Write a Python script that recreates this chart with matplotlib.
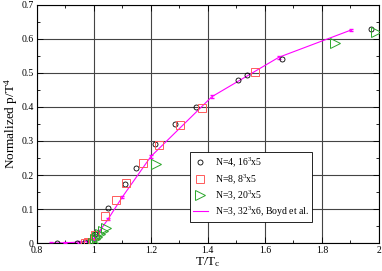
import matplotlib
matplotlib.use("Agg")
import matplotlib.pyplot as plt
from matplotlib.ticker import MultipleLocator, FuncFormatter

plt.rcParams['font.family'] = ['Liberation Serif', 'DejaVu Serif']
plt.rcParams['mathtext.fontset'] = 'custom'
plt.rcParams['mathtext.rm'] = 'Liberation Serif'
plt.rcParams['mathtext.it'] = 'Liberation Serif:italic'

# N=4, 16^3x5
n4_x = [0.87, 0.942, 0.97, 1.003, 1.051, 1.108, 1.147, 1.215, 1.286, 1.358, 1.507, 1.536, 1.659, 1.971]
n4_y = [0.0, 0.0, 0.004, 0.026, 0.102, 0.173, 0.220, 0.291, 0.350, 0.399, 0.479, 0.494, 0.541, 0.629]
# N=8, 8^3x5
n8_x = [0.969, 0.98, 1.003, 1.039, 1.077, 1.114, 1.172, 1.228, 1.303, 1.381, 1.565]
n8_y = [0.0, 0.004, 0.023, 0.079, 0.128, 0.176, 0.234, 0.287, 0.346, 0.397, 0.502]
# N=3, 20^3x5
n3_x = [0.997, 1.006, 1.013, 1.021, 1.032, 1.044, 1.219, 1.845, 1.99]
n3_y = [0.0, 0.012, 0.019, 0.028, 0.035, 0.043, 0.231, 0.587, 0.620]
# N=3, 32^3x6, Boyd et al.
boyd_x = [0.85, 0.9, 0.95, 0.98, 1.0, 1.02, 1.05, 1.1, 1.2, 1.414, 1.649, 1.902]
boyd_y = [0.0, 0.001, 0.003, 0.005, 0.012, 0.035, 0.07, 0.135, 0.254, 0.43, 0.546, 0.626]
boyd_err = [0.002, 0.002, 0.002, 0.002, 0.003, 0.003, 0.003, 0.003, 0.004, 0.004, 0.004, 0.004]

fig = plt.figure(figsize=(3.82, 2.71), dpi=100)
ax = fig.add_axes([0.096, 0.103, 0.896, 0.879])

ax.plot(n4_x, n4_y, linestyle='none', marker='o', ms=3.6, mfc='none', mec='black', mew=0.6,
        label='N=4, 16$^{3}$x5', zorder=4)
ax.plot(n8_x, n8_y, linestyle='none', marker='s', ms=5.5, mfc='none', mec='#ff5a5a', mew=0.7,
        label='N=8, 8$^{3}$x5', zorder=4)
ax.plot(n3_x, n3_y, linestyle='none', marker='>', ms=7, mfc='none', mec='#2aa62a', mew=0.7,
        label='N=3, 20$^{3}$x5', zorder=4)
ax.plot(boyd_x, boyd_y, color='#ff00ff', lw=0.8, label='N=3, 32$^{3}$x6, Boyd et al.', zorder=3)
ax.errorbar(boyd_x, boyd_y, yerr=boyd_err, fmt='none', ecolor='#ff00ff', capsize=1.2,
            elinewidth=0.6, zorder=3)

ax.set_xlim(0.8, 2.0)
ax.set_ylim(0.0, 0.7)
ax.xaxis.set_major_locator(MultipleLocator(0.2))
ax.xaxis.set_minor_locator(MultipleLocator(0.1))
ax.yaxis.set_major_locator(MultipleLocator(0.1))
ax.yaxis.set_minor_locator(MultipleLocator(0.05))
fmt = FuncFormatter(lambda v, p: ('%g' % round(v, 3)))
ax.xaxis.set_major_formatter(fmt)
ax.yaxis.set_major_formatter(fmt)
ax.tick_params(which='both', direction='in', top=True, right=True, labelsize=7, width=0.6, pad=2)
ax.tick_params(which='major', length=4)
ax.tick_params(which='minor', length=2)
ax.grid(True, which='major', color='#444444', lw=0.8)
ax.set_axisbelow(True)
for s in ax.spines.values():
    s.set_linewidth(0.8)

ax.set_xlabel('T/T$_{\\rm c}$', fontsize=9.5, labelpad=0)
ax.set_ylabel('Normalized p/T$^{4}$', fontsize=9.5, labelpad=1)

leg = ax.legend(loc='lower left', bbox_to_anchor=(0.448, 0.088), borderaxespad=0,
                fontsize=7, frameon=True, fancybox=False, edgecolor='black', framealpha=1,
                handlelength=1.45, borderpad=0.35, labelspacing=0.25, handletextpad=0.75)
leg.get_frame().set_linewidth(0.6)

fig.savefig('out.png', dpi=100)
